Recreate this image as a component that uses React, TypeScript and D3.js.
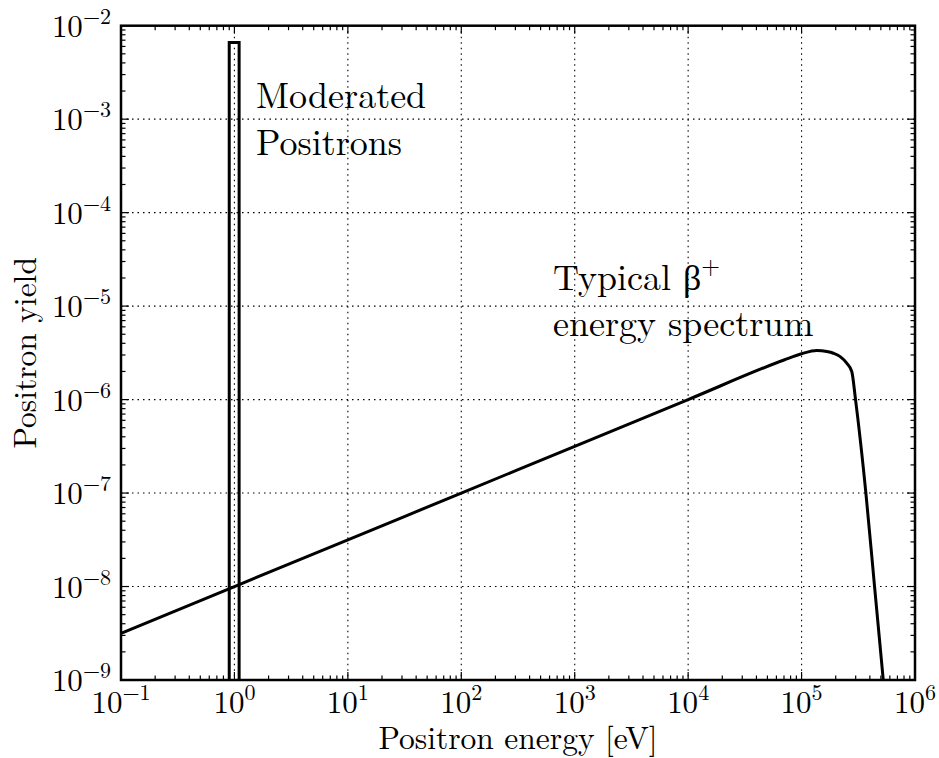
import React from "react";
import * as d3 from "d3";

// Spectrum of a typical beta+ source (energy in eV, yield per eV)
const spectrumEnergy = [0.1, 1, 10, 100, 1e3, 1e4, 7e4, 1e5, 1.36e5, 1.67e5, 1.91e5, 2.19e5, 2.5e5, 2.77e5, 2.99e5, 3.69e5, 4.4e5, 5.25e5];
const spectrumYield = [3.16e-9, 1e-8, 3.16e-8, 1e-7, 3.16e-7, 1e-6, 2.65e-6, 3.09e-6, 3.35e-6, 3.27e-6, 3.13e-6, 2.88e-6, 2.45e-6, 2.0e-6, 1e-6, 1e-7, 1e-8, 1e-9];

// Moderated positron peak, drawn as a narrow box
const moderatedEnergy = [0.9, 1.1];
const moderatedYield = 6.6e-3;

const xTickExponents = [-1, 0, 1, 2, 3, 4, 5, 6];
const yTickExponents = [-9, -8, -7, -6, -5, -4, -3, -2];

const W = 939;
const H = 758;
const M = { left: 121, right: 915, top: 25.7, bottom: 680 };
const FONT = { fontFamily: "Latin Modern Roman" };

function minorValues(lo: number, hi: number): number[] {
  const out: number[] = [];
  for (let e = lo; e < hi; e++) {
    for (let m = 2; m <= 9; m++) out.push(m * Math.pow(10, e));
  }
  return out;
}

function supLabel(exp: number) {
  const s = exp < 0 ? "\u2212" + Math.abs(exp) : String(exp);
  return [
    <tspan key="b">10</tspan>,
    <tspan key="s" fontSize={22} dy={-13}>{s}</tspan>,
  ];
}

export default function App() {
  const x = d3.scaleLog().domain([0.1, 1e6]).range([M.left, M.right]);
  const y = d3.scaleLog().domain([1e-9, 1e-2]).range([M.bottom, M.top]);

  const xMajors = xTickExponents.map((e) => Math.pow(10, e));
  const yMajors = yTickExponents.map((e) => Math.pow(10, e));
  const xMinors = minorValues(-1, 6);
  const yMinors = minorValues(-9, -2);

  const pts: [number, number][] = spectrumEnergy.map((e, i) => [e, spectrumYield[i]]);
  const line = d3
    .line<[number, number]>()
    .x((d) => x(d[0]))
    .y((d) => y(d[1]))
    .curve(d3.curveMonotoneX);

  const box: [number, number][] = [
    [moderatedEnergy[0], 1e-9],
    [moderatedEnergy[0], moderatedYield],
    [moderatedEnergy[1], moderatedYield],
    [moderatedEnergy[1], 1e-9],
  ];
  const boxLine = d3
    .line<[number, number]>()
    .x((d) => x(d[0]))
    .y((d) => y(d[1]));

  const majorLen = 8;
  const minorLen = 4.5;

  return (
    <svg width={W} height={H} style={{ position: "absolute", left: 0, top: 0, background: "#fff" }}>
      <rect x={0} y={0} width={W} height={H} fill="#fff" />

      {/* grid */}
      <g stroke="#000" strokeWidth={1.1} strokeDasharray="1.5 4" fill="none">
        {xMajors.slice(1, -1).map((v) => (
          <line key={"gx" + v} x1={x(v)} x2={x(v)} y1={M.top} y2={M.bottom} />
        ))}
        {yMajors.slice(1, -1).map((v) => (
          <line key={"gy" + v} x1={M.left} x2={M.right} y1={y(v)} y2={y(v)} />
        ))}
      </g>

      {/* ticks on all four sides, pointing inward */}
      <g stroke="#000" strokeWidth={1.2}>
        {xMajors.map((v) => (
          <g key={"tx" + v}>
            <line x1={x(v)} x2={x(v)} y1={M.bottom} y2={M.bottom - majorLen} />
            <line x1={x(v)} x2={x(v)} y1={M.top} y2={M.top + majorLen} />
          </g>
        ))}
        {xMinors.map((v) => (
          <g key={"mx" + v}>
            <line x1={x(v)} x2={x(v)} y1={M.bottom} y2={M.bottom - minorLen} />
            <line x1={x(v)} x2={x(v)} y1={M.top} y2={M.top + minorLen} />
          </g>
        ))}
        {yMajors.map((v) => (
          <g key={"ty" + v}>
            <line x1={M.left} x2={M.left + majorLen} y1={y(v)} y2={y(v)} />
            <line x1={M.right} x2={M.right - majorLen} y1={y(v)} y2={y(v)} />
          </g>
        ))}
        {yMinors.map((v) => (
          <g key={"my" + v}>
            <line x1={M.left} x2={M.left + minorLen} y1={y(v)} y2={y(v)} />
            <line x1={M.right} x2={M.right - minorLen} y1={y(v)} y2={y(v)} />
          </g>
        ))}
      </g>

      {/* data */}
      <path d={boxLine(box) || ""} fill="none" stroke="#000" strokeWidth={3} strokeLinejoin="miter" />
      <path d={line(pts) || ""} fill="none" stroke="#000" strokeWidth={3} strokeLinejoin="round" />

      {/* frame */}
      <rect
        x={M.left}
        y={M.top}
        width={M.right - M.left}
        height={M.bottom - M.top}
        fill="none"
        stroke="#000"
        strokeWidth={2.5}
      />

      {/* tick labels */}
      {xTickExponents.map((e) => (
        <text key={"lx" + e} x={x(Math.pow(10, e))} y={713} textAnchor="middle" fontSize={31} style={FONT}>
          {supLabel(e)}
        </text>
      ))}
      {yTickExponents.map((e) => (
        <text key={"ly" + e} x={111} y={y(Math.pow(10, e)) + 11} textAnchor="end" fontSize={31} style={FONT}>
          {supLabel(e)}
        </text>
      ))}

      {/* axis titles */}
      <text x={(M.left + M.right) / 2} y={749} textAnchor="middle" fontSize={31.5} style={FONT}>
        Positron energy [eV]
      </text>
      <text
        transform={`translate(36, ${(M.top + M.bottom) / 2}) rotate(-90)`}
        textAnchor="middle"
        fontSize={31.5}
        style={FONT}
      >
        Positron yield
      </text>

      {/* annotations */}
      <text x={256} y={108} fontSize={36} style={FONT}>Moderated</text>
      <text x={256} y={155} fontSize={36} style={FONT}>Positrons</text>
      <text x={553} y={290} fontSize={36} style={FONT}>
        Typical β<tspan fontSize={24} dy={-16}>+</tspan>
      </text>
      <text x={553} y={336} fontSize={36} style={FONT}>energy spectrum</text>
    </svg>
  );
}
